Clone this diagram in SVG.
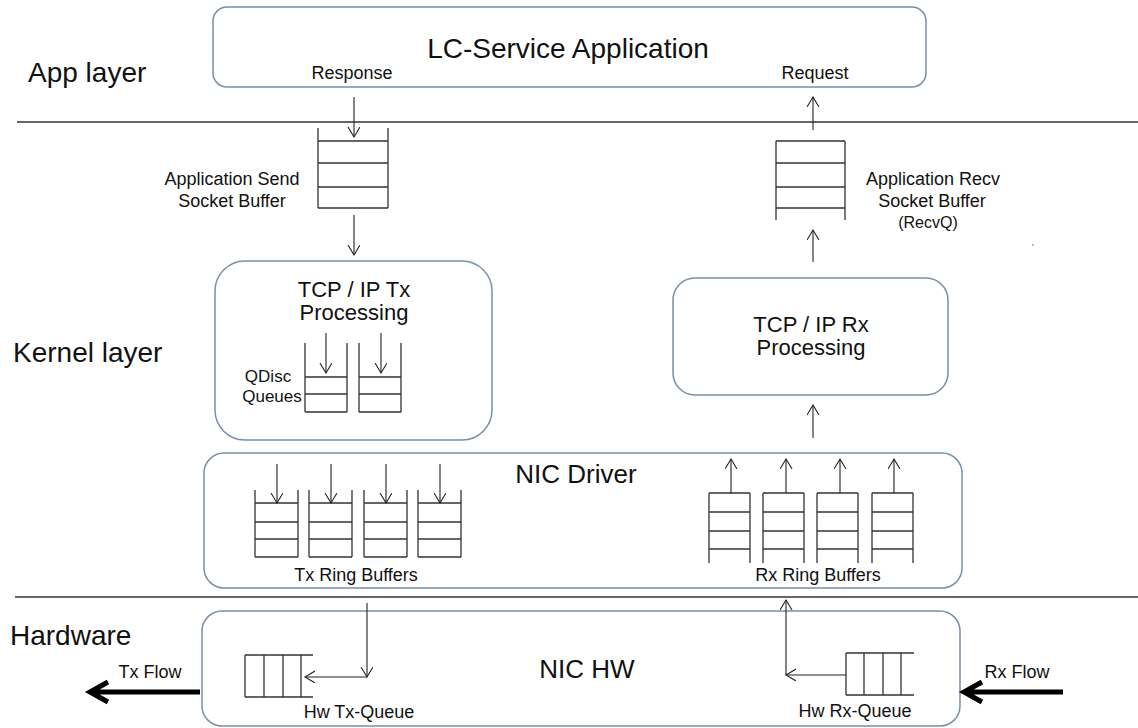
<svg xmlns="http://www.w3.org/2000/svg" width="1138" height="728" viewBox="0 0 1138 728">
<defs>
<style>
.box{fill:#fff;stroke:#7b8fa5;stroke-width:1.5}
.sep{stroke:#333;stroke-width:1.5}
.q{fill:none;stroke:#333;stroke-width:1.3}
.arr{fill:none;stroke:#222;stroke-width:1.1;marker-end:url(#ah)}
.thick{fill:none;stroke:#000;stroke-width:5}
text{font-family:"Liberation Sans",Arial,sans-serif;fill:#111}
.layer{font-size:28px}
.big{font-size:28px;text-anchor:middle}
.mid{font-size:26px;text-anchor:middle}
.proc{font-size:22px;text-anchor:middle}
.lbl{font-size:18px;text-anchor:middle}
</style>
<marker id="ah" markerUnits="userSpaceOnUse" markerWidth="12" markerHeight="14" refX="10" refY="6" orient="auto" viewBox="0 0 12 14">
<path d="M0,0 L10,6 L0,12" fill="none" stroke="#222" stroke-width="1.1"/>
</marker>
</defs>
<rect width="1138" height="728" fill="#fff"/>

<g id="layers">
<line class="sep" x1="17" y1="122" x2="1138" y2="122"/>
<line class="sep" x1="15" y1="597" x2="1138" y2="597"/>
<text class="layer" x="28" y="82">App layer</text>
<text class="layer" x="13" y="362">Kernel layer</text>
<text class="layer" x="10" y="645">Hardware</text>
</g>

<g id="app">
<rect class="box" x="213" y="7" width="713" height="80" rx="14"/>
<text class="big" x="568" y="58">LC-Service Application</text>
<text class="lbl" x="352" y="79">Response</text>
<text class="lbl" x="815" y="79">Request</text>
</g>

<g id="send-buffer">
<path class="q" d="M318,128 V208 M388,128 V208 M318,141 H388 M318,163 H388 M318,187 H388 M318,208 H388"/>
<text class="lbl" x="232" y="185">Application Send</text>
<text class="lbl" x="232" y="207">Socket Buffer</text>
</g>

<g id="recv-buffer">
<path class="q" d="M776,141 V220 M845,141 V220 M776,141 H845 M776,163 H845 M776,187 H845 M776,208 H845"/>
<text class="lbl" x="933" y="185">Application Recv</text>
<text class="lbl" x="932" y="207">Socket Buffer</text>
<text class="lbl" x="928" y="228" style="font-size:16px">(RecvQ)</text>
<circle cx="1033" cy="245" r="0.8" fill="#666"/>
</g>

<g id="tcp-tx">
<rect class="box" x="215" y="261" width="277" height="179" rx="30"/>
<text class="proc" x="354" y="297">TCP / IP Tx</text>
<text class="proc" x="354" y="320">Processing</text>
<path class="q" d="M305,343 V412 M347,343 V412 M305,377 H347 M305,394 H347 M305,412 H347 M359,343 V412 M401,343 V412 M359,377 H401 M359,394 H401 M359,412 H401"/>
<text class="lbl" x="268" y="382" style="font-size:17px">QDisc</text>
<text class="lbl" x="272" y="402" style="font-size:17px">Queues</text>
</g>

<g id="tcp-rx">
<rect class="box" x="673" y="278" width="275" height="117" rx="22"/>
<text class="proc" x="811" y="332">TCP / IP Rx</text>
<text class="proc" x="811" y="355">Processing</text>
</g>

<g id="nic-driver">
<rect class="box" x="204" y="453" width="758" height="135" rx="20"/>
<text class="mid" x="576" y="483">NIC Driver</text>
<path class="q" d="M255,490 V557 M298,490 V557 M255,503 H298 M255,522 H298 M255,539 H298 M255,557 H298
M309,490 V557 M352,490 V557 M309,503 H352 M309,522 H352 M309,539 H352 M309,557 H352
M364,490 V557 M407,490 V557 M364,503 H407 M364,522 H407 M364,539 H407 M364,557 H407
M418,490 V557 M461,490 V557 M418,503 H461 M418,522 H461 M418,539 H461 M418,557 H461"/>
<text class="lbl" x="356" y="581">Tx Ring Buffers</text>
<path class="q" d="M709,493 V563 M750,493 V563 M709,493 H750 M709,512 H750 M709,531 H750 M709,549 H750
M763,493 V563 M804,493 V563 M763,493 H804 M763,512 H804 M763,531 H804 M763,549 H804
M817,493 V563 M858,493 V563 M817,493 H858 M817,512 H858 M817,531 H858 M817,549 H858
M872,493 V563 M913,493 V563 M872,493 H913 M872,512 H913 M872,531 H913 M872,549 H913"/>
<text class="lbl" x="818" y="581">Rx Ring Buffers</text>
</g>

<g id="nic-hw">
<rect class="box" x="202" y="611" width="758" height="115" rx="20"/>
<text class="mid" x="587" y="678">NIC HW</text>
<path class="q" d="M245,655 H313 M245,697 H313 M245,655 V697 M264,655 V697 M283,655 V697 M301,655 V697"/>
<text class="lbl" x="359" y="718">Hw Tx-Queue</text>
<path class="q" d="M846,653 H914 M846,695 H914 M846,653 V695 M864,653 V695 M883,653 V695 M901,653 V695"/>
<text class="lbl" x="855" y="717">Hw Rx-Queue</text>
</g>

<g id="flows">
<text class="lbl" x="150" y="678">Tx Flow</text>
<text class="lbl" x="1017" y="678">Rx Flow</text>
</g>

<g id="connectors">
<line class="arr" x1="354" y1="97" x2="354" y2="137"/>
<line class="arr" x1="354" y1="215" x2="354" y2="255"/>
<line class="arr" x1="326" y1="333" x2="326" y2="373"/>
<line class="arr" x1="381" y1="333" x2="381" y2="373"/>
<line class="arr" x1="277" y1="464" x2="277" y2="503"/>
<line class="arr" x1="331" y1="464" x2="331" y2="503"/>
<line class="arr" x1="386" y1="464" x2="386" y2="503"/>
<line class="arr" x1="440" y1="464" x2="440" y2="503"/>
<line class="arr" x1="367" y1="603" x2="367" y2="677"/>
<line class="arr" x1="367" y1="677" x2="305" y2="677"/>
<line class="arr" x1="846" y1="675" x2="786" y2="675"/>
<line class="arr" x1="786" y1="675" x2="786" y2="600"/>
<line class="arr" x1="731" y1="493" x2="731" y2="459"/>
<line class="arr" x1="786" y1="493" x2="786" y2="459"/>
<line class="arr" x1="840" y1="493" x2="840" y2="459"/>
<line class="arr" x1="894" y1="493" x2="894" y2="459"/>
<line class="arr" x1="813" y1="438" x2="813" y2="405"/>
<line class="arr" x1="813" y1="262" x2="813" y2="230"/>
<line class="arr" x1="813" y1="130" x2="813" y2="97"/>
<path class="thick" d="M200,692 H90 M108,682 L90,692 L108,702"/>
<path class="thick" d="M1063,692 H964 M982,682 L964,692 L982,702"/>
</g>
</svg>
